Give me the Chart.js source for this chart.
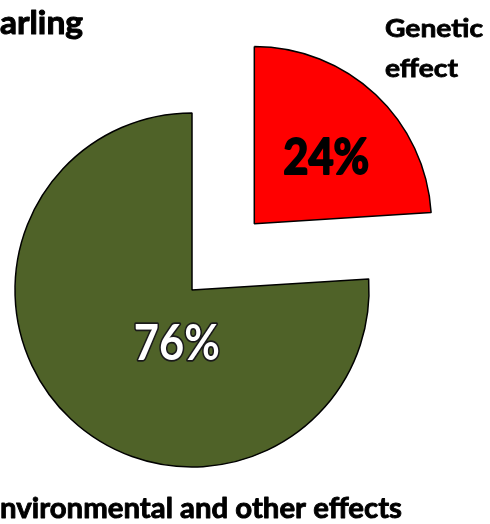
<!DOCTYPE html>
<html>
<head>
<meta charset="utf-8">
<script src="https://cdn.jsdelivr.net/npm/chart.js@4.4.0/dist/chart.umd.min.js"></script>
<style>
  html, body { margin: 0; padding: 0; background: #fff; }
  #wrap { width: 490px; height: 524px; position: relative; overflow: hidden; }
</style>
</head>
<body>
<div id="wrap"><canvas id="pie"></canvas></div>
<script>
const titleText = "Yearling";
const categories = ["Genetic effect", "Environmental and other effects"];
const shares = [24, 76];
const sliceColors = ["#FF0000", "#4F6228"];
// Chart.js moves an arc by roughly offset / 4
const explode = [364, 0];

// where each percentage sits inside its slice: [fraction of radius, degrees clockwise from top]
const labelPolar = [[0.55, 47.5], [0.32, 195.5]];
const labelColors = ["#000000", "#FFFFFF"];
const labelOutline = ["#000000", "#1a1a1a"];

const FONT = "Lato, 'Open Sans', sans-serif";

// bold text, stretched horizontally so that `part` spans `width` px,
// with a thin stroke of the same colour to make it heavier
function wideText(ctx, str, x, y, size, align, part, width, heavy) {
  ctx.font = "bold " + size + "px " + FONT;
  const sx = width / ctx.measureText(part).width;
  ctx.save();
  ctx.translate(x, y);
  ctx.scale(sx, 1);
  ctx.textAlign = align;
  ctx.strokeStyle = ctx.fillStyle;
  ctx.lineWidth = heavy;
  ctx.lineJoin = "round";
  ctx.strokeText(str, 0, 0);
  ctx.fillText(str, 0, 0);
  ctx.restore();
  return sx;
}

const textPlugin = {
  id: "pieText",
  afterDraw(chart) {
    const ctx = chart.ctx;
    const arcs = chart.getDatasetMeta(0).data;
    ctx.save();

    // percentages inside the slices
    arcs.forEach((arc, i) => {
      const mid = (arc.startAngle + arc.endAngle) / 2;
      const circ = arc.endAngle - arc.startAngle;
      const shift = (explode[i] / 4) * (2 - Math.sin(Math.min(Math.PI, circ)));
      const cx = arc.x + Math.cos(mid) * shift;
      const cy = arc.y + Math.sin(mid) * shift;
      const [k, deg] = labelPolar[i];
      const a = deg * Math.PI / 180 - Math.PI / 2;
      const r = arc.outerRadius * k;
      const str = shares[i] + "%";
      ctx.font = "bold 49px " + FONT;
      const sx = 86 / ctx.measureText(str).width;
      ctx.save();
      ctx.translate(cx + Math.cos(a) * r, cy + Math.sin(a) * r);
      ctx.scale(sx, 1);
      ctx.textAlign = "center";
      ctx.textBaseline = "middle";
      ctx.strokeStyle = labelOutline[i];
      ctx.lineWidth = i === 0 ? 2 : 3.5;
      ctx.lineJoin = "round";
      ctx.strokeText(str, 0, 0);
      ctx.fillStyle = labelColors[i];
      ctx.fillText(str, 0, 0);
      ctx.restore();
    });

    ctx.fillStyle = "#000";
    ctx.textBaseline = "alphabetic";

    // title, running off the left edge
    wideText(ctx, titleText, 83, 34, 32, "right", "arling", 83, 1);

    // category names
    const words = categories[0].split(" ");
    const sx = wideText(ctx, words[0], 385, 37, 25, "left", words[0], 98, 0.8);
    ctx.save();
    ctx.translate(385, 77);
    ctx.scale(sx, 1);
    ctx.strokeStyle = "#000";
    ctx.lineWidth = 0.8;
    ctx.strokeText(words[1], 0, 0);
    ctx.fillText(words[1], 0, 0);
    ctx.restore();

    wideText(ctx, categories[1], 402, 518, 29, "right",
      categories[1].slice(1), 402, 0.9);

    ctx.restore();
  }
};

new Chart(document.getElementById("pie"), {
  type: "pie",
  data: {
    labels: categories,
    datasets: [
      {
        data: shares,
        backgroundColor: sliceColors,
        borderColor: "#000000",
        borderWidth: 1.5,
        offset: explode,
      },
    ],
  },
  options: {
    responsive: true,
    maintainAspectRatio: false,
    animation: false,
    radius: 177,
    layout: { padding: { left: 0, right: 106, top: 56, bottom: 0 } },
    plugins: {
      legend: { display: false },
      tooltip: { enabled: false },
      title: { display: false },
    },
  },
  plugins: [textPlugin],
});
</script>
</body>
</html>
